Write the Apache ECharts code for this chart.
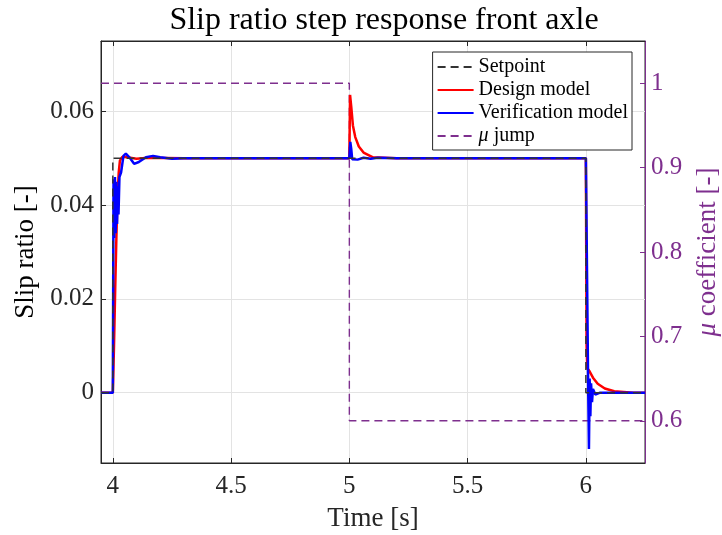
<!DOCTYPE html>
<html>
<head>
<meta charset="utf-8">
<script src="https://cdn.jsdelivr.net/npm/echarts@6/dist/echarts.min.js"></script>
<style>
  html, body { margin: 0; padding: 0; background: #fff; }
  #chart { width: 722px; height: 535px; }
</style>
</head>
<body>
<div id="chart"></div>
<script>
// Slip ratio step response, front axle: [time (s), value] pairs
const setpoint = [[3.95, 0], [4.0, 0], [4.0, 0.05], [6.0, 0.05], [6.0, 0], [6.25, 0]];

const designModel = [
  [3.95, 0], [4.0, 0], [4.005, 0.01], [4.01, 0.022], [4.015, 0.033], [4.02, 0.042],
  [4.025, 0.047], [4.03, 0.0495], [4.04, 0.0503], [4.06, 0.0502], [4.1, 0.0499],
  [4.15, 0.0501], [4.3, 0.05], [5.0, 0.05], [5.003, 0.0635], [5.008, 0.061],
  [5.015, 0.057], [5.025, 0.0545], [5.04, 0.0525], [5.06, 0.0512], [5.1, 0.0502],
  [5.2, 0.05], [6.0, 0.05], [6.003, 0.01], [6.006, 0.0052], [6.015, 0.0046],
  [6.03, 0.0032], [6.05, 0.0019], [6.08, 0.0009], [6.12, 0.0003], [6.2, 0], [6.25, 0]
];

const verificationModel = [
  [3.95, 0], [4.0, 0], [4.003, 0.0455], [4.006, 0.033], [4.009, 0.046], [4.012, 0.034],
  [4.015, 0.045], [4.018, 0.036], [4.021, 0.044], [4.024, 0.038], [4.028, 0.046],
  [4.035, 0.047], [4.045, 0.0505], [4.055, 0.051], [4.07, 0.0502], [4.09, 0.0488],
  [4.11, 0.0492], [4.14, 0.0502], [4.17, 0.0505], [4.2, 0.0502], [4.25, 0.0499],
  [4.3, 0.05], [5.0, 0.05], [5.004, 0.0535], [5.008, 0.052], [5.012, 0.0498],
  [5.02, 0.0494], [5.035, 0.0497], [5.06, 0.0501], [5.09, 0.0499], [5.12, 0.0501],
  [5.2, 0.05], [6.0, 0.05], [6.01, 0.0], [6.013, -0.012], [6.016, 0.003],
  [6.019, -0.005], [6.022, 0.002], [6.026, -0.002], [6.03, 0.0008], [6.04, -0.0004],
  [6.06, 0], [6.25, 0]
];

// Friction coefficient step (right axis)
const muJump = [[3.95, 1.0], [5.0, 1.0], [5.0, 0.6], [6.25, 0.6]];

const xTicks = [4, 4.5, 5, 5.5, 6];
const slipTicks = [0, 0.02, 0.04, 0.06];
const muTicks = [0.6, 0.7, 0.8, 0.9, 1];

const FONT = 'Liberation Serif';
const AXIS = '#262626';
const MU = '#7E2F8E';
const ital = { fontStyle: 'italic', fontFamily: FONT };

const chart = echarts.init(document.getElementById('chart'), null, { renderer: 'canvas' });

chart.setOption({
  animation: false,
  backgroundColor: '#fff',
  textStyle: { fontFamily: FONT },
  title: {
    text: 'Slip ratio step response front axle',
    left: 379, top: 0, textAlign: 'center',
    textStyle: { fontFamily: FONT, fontSize: 32, fontWeight: 'normal', color: '#000' }
  },
  grid: { left: 101, right: 77, top: 41, bottom: 72, show: true, borderColor: AXIS, borderWidth: 1,
          containLabel: false, outerBoundsMode: 'none' },
  legend: {
    right: 90, top: 52, orient: 'vertical',
    backgroundColor: '#fff', borderColor: AXIS, borderWidth: 1,
    padding: [5, 4, 4, 4], itemGap: 3, itemWidth: 36, itemHeight: 20,
    itemStyle: { opacity: 0 },
    textStyle: { fontFamily: FONT, fontSize: 20, color: '#000', rich: { i: Object.assign({ fontSize: 20, color: '#000' }, ital) } },
    formatter: n => n === 'μ jump' ? '{i|μ} jump' : n,
    data: ['Setpoint', 'Design model', 'Verification model', 'μ jump']
  },
  xAxis: [{
    type: 'value', min: 3.95, max: 6.25,
    name: 'Time [s]', nameLocation: 'middle', nameGap: 42,
    nameTextStyle: { fontFamily: FONT, fontSize: 27, color: '#262626' },
    axisLine: { show: true, onZero: false, lineStyle: { color: AXIS } },
    axisTick: { inside: true, length: 5, lineStyle: { color: AXIS }, customValues: xTicks },
    axisLabel: { fontFamily: FONT, fontSize: 25, color: '#262626', margin: 11, customValues: xTicks,
                 formatter: v => String(v) },
    splitLine: { show: true, lineStyle: { color: '#e3e3e3' } }
  }, {
    type: 'value', position: 'top', min: 3.95, max: 6.25,
    axisLine: { show: true, onZero: false, lineStyle: { color: AXIS } },
    axisTick: { inside: true, length: 5, lineStyle: { color: AXIS }, customValues: xTicks },
    axisLabel: { show: false }, splitLine: { show: false }
  }],
  yAxis: [{
    type: 'value', min: -0.015, max: 0.075,
    name: 'Slip ratio [-]', nameLocation: 'middle', nameGap: 55,
    nameTextStyle: { fontFamily: FONT, fontSize: 27, color: '#000' },
    axisLine: { show: true, onZero: false, lineStyle: { color: AXIS } },
    axisTick: { inside: true, length: 5, lineStyle: { color: AXIS }, customValues: slipTicks },
    axisLabel: { fontFamily: FONT, fontSize: 25, color: '#262626', margin: 7, customValues: slipTicks,
                 formatter: v => String(+v.toFixed(2)) },
    splitLine: { show: true, lineStyle: { color: '#e3e3e3' } }
  }, {
    type: 'value', min: 0.55, max: 1.05, position: 'right',
    name: '{i|μ} coefficient [-]', nameLocation: 'middle', nameGap: 49,
    nameTextStyle: { fontFamily: FONT, fontSize: 27, color: MU,
                     rich: { i: Object.assign({ fontSize: 27, color: MU }, ital) } },
    axisLine: { show: true, onZero: false, lineStyle: { color: MU } },
    axisTick: { inside: true, length: 5, lineStyle: { color: MU }, customValues: muTicks },
    axisLabel: { fontFamily: FONT, fontSize: 25, color: MU, margin: 6, customValues: muTicks,
                 formatter: v => String(+v.toFixed(1)) },
    splitLine: { show: false }
  }],
  series: [{
    name: 'μ jump', type: 'line', yAxisIndex: 1, data: muJump, symbol: 'none',
    lineStyle: { color: MU, width: 1.4, type: [8, 5] }, itemStyle: { color: MU }, z: 1
  }, {
    name: 'Design model', type: 'line', data: designModel, symbol: 'none',
    lineStyle: { color: '#ff0000', width: 2.5 }, itemStyle: { color: '#ff0000' }, z: 2
  }, {
    name: 'Verification model', type: 'line', data: verificationModel, symbol: 'none',
    lineStyle: { color: '#0000ff', width: 2.5 }, itemStyle: { color: '#0000ff' }, z: 3
  }, {
    name: 'Setpoint', type: 'line', data: setpoint, symbol: 'none',
    lineStyle: { color: '#333333', width: 1.5, type: [8, 5] }, itemStyle: { color: '#333333' }, z: 4
  }]
});
</script>
</body>
</html>
